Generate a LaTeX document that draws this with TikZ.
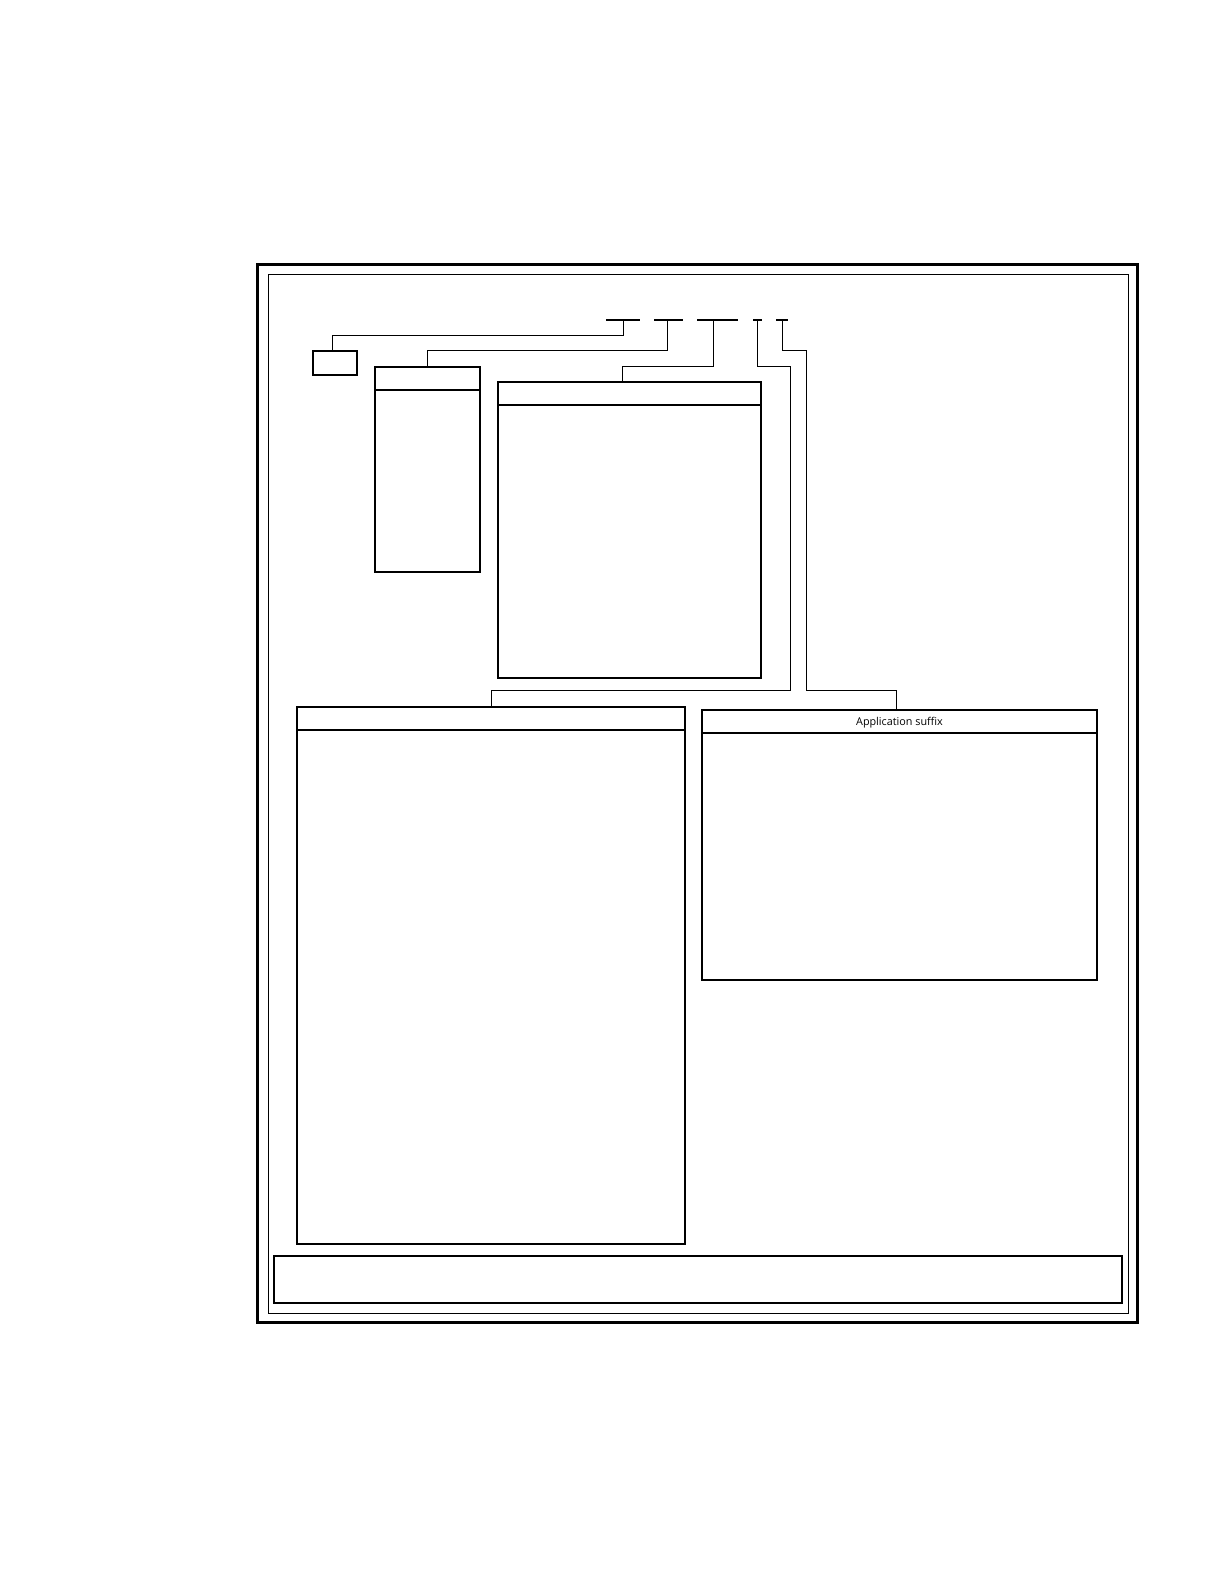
\documentclass[tikz,border=0pt]{standalone}
\usepackage{fontspec}
\setsansfont{Open Sans}
\usetikzlibrary{positioning}
\usetikzlibrary{calc}
\tikzstyle{box}=[rectangle,draw,line width=1pt,inner sep=0pt,outer sep=0pt]
\tikzstyle{bar}=[rectangle,fill=black,inner sep=0pt,outer sep=0pt,minimum height=1pt]
\tikzstyle{link} = [draw,line width=0.5pt]
\tikzstyle{headtext} = [font=\sffamily\fontsize{5.4}{6}\selectfont]
\begin{document}
\begin{tikzpicture}[x=0.5pt,y=-0.5pt]

  \useasboundingbox (0,0) rectangle (1224,1584);
  \def\bary{320};

  % frames
  \draw[line width=1.5pt] (257,264) rectangle (1137,1322);
  \draw[line width=0.5pt] (268,274) rectangle (1128,1313);

  % code bars
  \foreach \name/\x/\w in {b1/623/17pt, b2/668.5/14.5pt, b3/717.5/20.5pt, b4/757.5/4.5pt, b5/782/6pt}
     \node[bar, minimum width=\w] (\name) at (\x, \bary) {};

  % boxes
  \foreach \name/\x/\y/\w/\h in {boxA/335/363/22pt/12pt, boxB/427.5/469.5/52.5pt/102.5pt,
        boxC/629.5/530/131.5pt/148pt, boxD/491/975.5/194pt/268.5pt,
        boxE/899.5/845/197.5pt/135pt, footer/698/1279.5/424pt/23.5pt}
     \node[box, minimum width=\w, minimum height=\h] (\name) at (\x, \y) {};

  \foreach \b/\lw in {boxB/1pt, boxC/0.6pt, boxD/1pt, boxE/1pt}
     \draw[line width=\lw] ([yshift=-11.5pt]\b.north west) -- ([yshift=-11.5pt]\b.north east);

  \node[headtext] (suffix) at ([yshift=-6.4pt]boxE.north) {Application suffix};

  % connectors
  \draw[link] (b1.south) -- ++(0,14) -| ([xshift=-1.5pt]boxA.north);
  \draw[link] ([xshift=-0.75pt]b2.south) -- ++(0,29) -| (boxB.north);
  \draw[link] ([xshift=-2.25pt]b3.south) -- ++(0,45) -| ([xshift=-3.5pt]boxC.north);
  \draw[link] (b4.south) -- ++(0,45) -| (790,690) -| (boxD.north);
  \draw[link] (b5.south) -- ++(0,29) -| (806,690) -| ([xshift=-1.75pt]boxE.north);

\end{tikzpicture}
\end{document}
